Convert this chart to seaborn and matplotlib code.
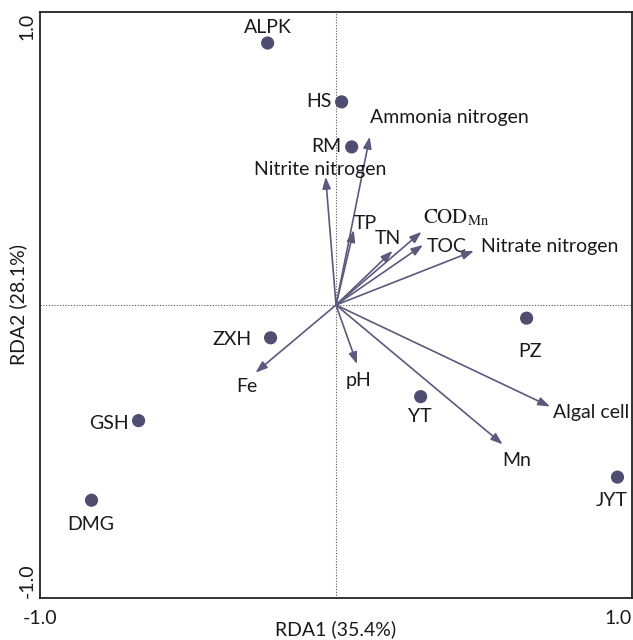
import pandas as pd
import matplotlib
matplotlib.use("Agg")
import matplotlib.pyplot as plt
import seaborn as sns

# Site scores (RDA1, RDA2)
sites = ["ALPK", "HS", "RM", "PZ", "YT", "JYT", "ZXH", "GSH", "DMG"]
site_x = [-0.231, 0.019, 0.053, 0.644, 0.286, 0.951, -0.221, -0.667, -0.826]
site_y = [0.895, 0.694, 0.540, -0.045, -0.313, -0.588, -0.112, -0.395, -0.667]

# Environmental / response variable arrows
variables = ["Ammonia nitrogen", "Nitrite nitrogen", "TP", "TN",
             r"$\mathrm{COD}_{\mathrm{Mn}}$", "TOC", "Nitrate nitrogen",
             "Fe", "pH", "Algal cell", "Mn"]
var_x = [0.114, -0.035, 0.060, 0.191, 0.289, 0.294, 0.466, -0.272, 0.071, 0.723, 0.563]
var_y = [0.575, 0.438, 0.256, 0.185, 0.250, 0.205, 0.185, -0.231, -0.202, -0.347, -0.476]

x_label = "RDA1 (35.4%)"
y_label = "RDA2 (28.1%)"

# label placement (offset pixels, alignment)
site_lab = {
    "ALPK": (0, 16, "center"), "HS": (-10, 0, "right"), "RM": (-10, 0, "right"),
    "PZ": (3, -33, "center"), "YT": (-1, -20, "center"), "JYT": (-6, -23, "center"),
    "ZXH": (-19, -2, "right"), "GSH": (-10, -3, "right"), "DMG": (-1, -24, "center"),
}
var_lab = [(0, 19, "left"), (-5, 7, "center"), (12, 7, "center"), (-5, 12, "center"),
           (1, 14, "left"), (4, -2, "left"), (7, 4, "left"), (-9, -14, "center"),
           (1, -16, "center"), (3, -6, "left"), (14, -16, "center")]

sns.set_style("white")
plt.rcParams["font.family"] = ["Lato", "DejaVu Sans"]
plt.rcParams["mathtext.fontset"] = "stix"

df = pd.DataFrame({"site": sites, "RDA1": site_x, "RDA2": site_y})

fig = plt.figure(figsize=(6.33, 6.40), dpi=100)
ax = fig.add_axes([0.0632, 0.0661, 0.9352, 0.9147])

dot_color = "#4f4e70"
arrow_color = "#5a5a7c"
fs = 14

ax.axhline(0, color="#555555", lw=0.8, ls=(0, (1, 1.5)), zorder=0)
ax.axvline(0, color="#555555", lw=0.8, ls=(0, (1, 1.5)), zorder=0)

sns.scatterplot(data=df, x="RDA1", y="RDA2", ax=ax, s=90, color=dot_color,
                edgecolor="none", zorder=3, legend=False)

for name, x, y in zip(sites, site_x, site_y):
    dx, dy, ha = site_lab[name]
    ax.annotate(name, (x, y), xytext=(dx, dy), textcoords="offset pixels",
                ha=ha, va="center", fontsize=fs, color="#1a1a1a")

for i, (name, x, y) in enumerate(zip(variables, var_x, var_y)):
    ax.annotate("", xy=(x, y), xytext=(0, 0),
                arrowprops=dict(arrowstyle="-|>,head_length=0.7,head_width=0.25",
                                color=arrow_color, lw=1.2, shrinkA=0, shrinkB=0))
    dx, dy, ha = var_lab[i]
    size = fs + 1 if name.startswith("$") else fs
    ax.annotate(name, (x, y), xytext=(dx, dy), textcoords="offset pixels",
                ha=ha, va="center", color="#1a1a1a", fontsize=size)

ax.set_xlim(-1, 1)
ax.set_ylim(-1, 1)
ax.set_xticks([-1, -0.5, 0, 0.5, 1])
ax.set_xticklabels(["-1.0", "", "", "", "1.0"])
ax.set_yticks([-1, -0.5, 0, 0.5, 1])
ax.set_yticklabels(["-1.0", "", "", "", "1.0"], rotation=90)
xt = ax.get_xticklabels()
xt[0].set_ha("center")
xt[-1].set_ha("right")
yt = ax.get_yticklabels()
for t in yt:
    t.set_ha("center")
yt[0].set_va("bottom")
yt[-1].set_va("top")
ax.tick_params(axis="both", direction="inout", length=7, width=1.0,
               color="#222222", labelsize=fs, labelcolor="#1a1a1a")
ax.tick_params(axis="x", pad=5)
ax.tick_params(axis="y", pad=6)

ax.set_xlabel(x_label, fontsize=fs, color="#1a1a1a")
ax.set_ylabel(y_label, fontsize=fs, color="#1a1a1a")
ax.xaxis.set_label_coords(0.5, -0.038)
ax.yaxis.set_label_coords(-0.021, 0.5)

for sp in ax.spines.values():
    sp.set_color("#222222")
    sp.set_linewidth(1.3)

fig.savefig("out.png", dpi=100)
